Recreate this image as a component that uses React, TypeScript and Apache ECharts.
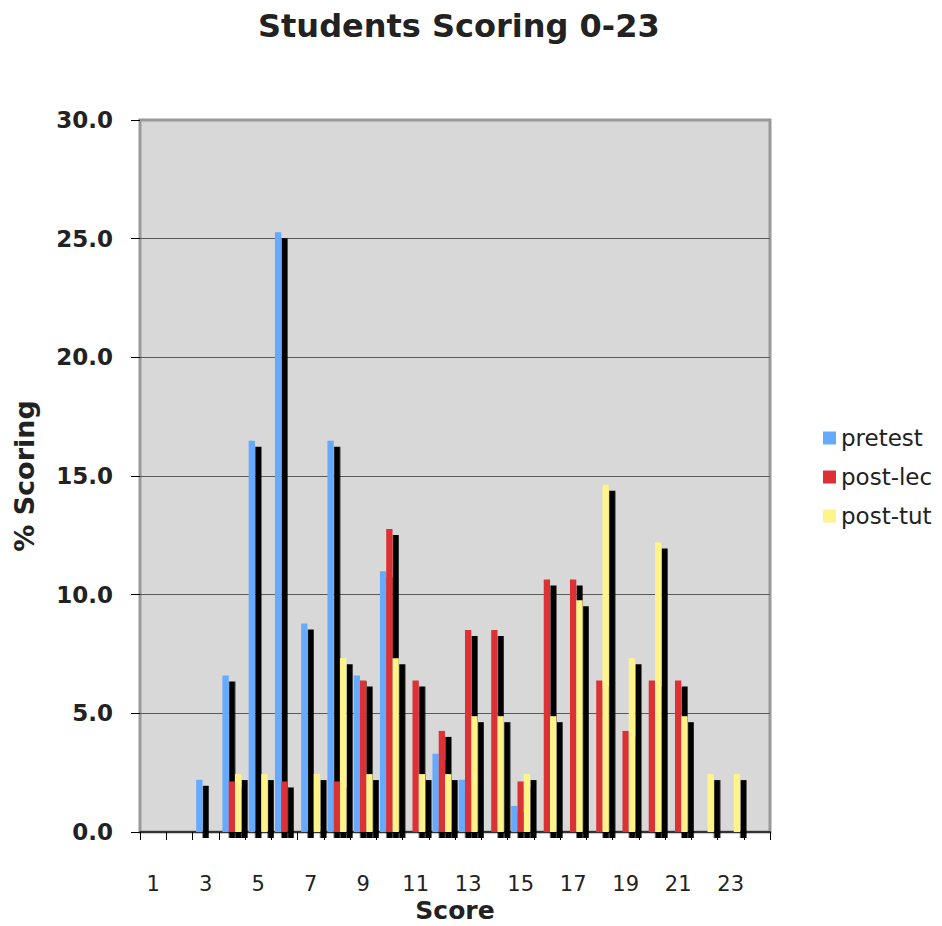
import React, { useEffect, useRef } from "react";
import * as echarts from "echarts";

const categories = ["1","2","3","4","5","6","7","8","9","10","11","12","13","14","15","16","17","18","19","20","21","22","23","24"];
const pretest = [0,0,2.20,6.59,16.48,25.27,8.79,16.48,6.59,10.99,0,3.30,2.20,0,1.10,0,0,0,0,0,0,0,0,0];
const postLec = [0,0,0,2.13,0,2.13,0,2.13,6.38,12.77,6.38,4.26,8.51,8.51,2.13,10.64,10.64,6.38,4.26,6.38,6.38,0,0,0];
const postTut = [0,0,0,2.44,2.44,0,2.44,7.32,2.44,7.32,2.44,2.44,4.88,4.88,2.44,4.88,9.76,14.63,7.32,12.20,4.88,2.44,2.44,0];
const seriesNames = ["pretest", "post-lec", "post-tut"];
const seriesColors = ["#66aaff", "#dd3036", "#fff38a"];

const FONT = "DejaVu Sans";

export default function App() {
  const ref = useRef<HTMLDivElement>(null);
  useEffect(() => {
    const chart = echarts.init(ref.current!, null, { renderer: "svg" });
    const shadow = { shadowColor: "#000000", shadowOffsetX: 6.5, shadowOffsetY: 6, shadowBlur: 0 };
    const dataSets = [pretest, postLec, postTut];
    chart.setOption({
      animation: false,
      backgroundColor: "#ffffff",
      textStyle: { fontFamily: FONT },
      title: {
        text: "Students Scoring 0-23",
        left: 258,
        top: 10,
        padding: 0,
        textStyle: { fontFamily: FONT, fontWeight: "bold", fontSize: 32, color: "#222222" },
      },
      legend: {
        orient: "vertical",
        left: 823,
        top: 425,
        padding: 0,
        itemWidth: 13,
        itemHeight: 13,
        itemGap: 13,
        icon: "rect",
        data: seriesNames,
        itemStyle: { shadowBlur: 0, shadowOffsetX: 0, shadowOffsetY: 0, shadowColor: "rgba(0,0,0,0)" },
        textStyle: { fontFamily: FONT, fontSize: 23, color: "#222222", lineHeight: 26 },
      },
      grid: {
        left: 140,
        right: 172,
        top: 120,
        bottom: 94,
        containLabel: false,
        outerBoundsMode: "none",
        show: true,
        backgroundColor: "#d8d8d8",
        borderColor: "#999999",
        borderWidth: 3,
      },
      xAxis: {
        type: "category",
        data: categories,
        boundaryGap: true,
        name: "Score",
        nameLocation: "middle",
        nameGap: 66,
        nameMoveOverlap: false,
        nameTextStyle: { fontFamily: FONT, fontWeight: "bold", fontSize: 25, lineHeight: 24, color: "#222222" },
        axisLine: { show: true, lineStyle: { color: "#333333", width: 2 } },
        axisTick: { show: true, interval: 0, length: 8, lineStyle: { color: "#000000", width: 1 } },
        axisLabel: { interval: 1, margin: 41, lineHeight: 21, fontFamily: FONT, fontSize: 21, color: "#222222" },
        splitLine: { show: false },
      },
      yAxis: {
        type: "value",
        min: 0,
        max: 30,
        interval: 5,
        name: "% Scoring",
        nameLocation: "middle",
        nameGap: 102,
        nameRotate: 90,
        nameMoveOverlap: false,
        nameTextStyle: { fontFamily: FONT, fontWeight: "bold", fontSize: 27, color: "#222222" },
        axisLine: { show: false },
        axisTick: { show: true, length: 9, lineStyle: { color: "#000000", width: 1 } },
        axisLabel: {
          margin: 27,
          fontFamily: FONT,
          fontWeight: "bold",
          fontSize: 23,
          color: "#222222",
          formatter: (v: number) => v.toFixed(1),
        },
        splitLine: { show: true, showMinLine: false, showMaxLine: false, lineStyle: { color: "#5a5a5a", width: 1 } },
      },
      series: dataSets.map((d, i) => ({
        name: seriesNames[i],
        type: "bar",
        data: d,
        barWidth: 6.3,
        barGap: "0%",
        itemStyle: { color: seriesColors[i], ...shadow },
        emphasis: { disabled: true },
      })),
    });
    return () => chart.dispose();
  }, []);
  return (
    <div
      ref={ref}
      style={{ position: "fixed", left: 0, top: 0, width: 942, height: 926, background: "#ffffff" }}
    />
  );
}
